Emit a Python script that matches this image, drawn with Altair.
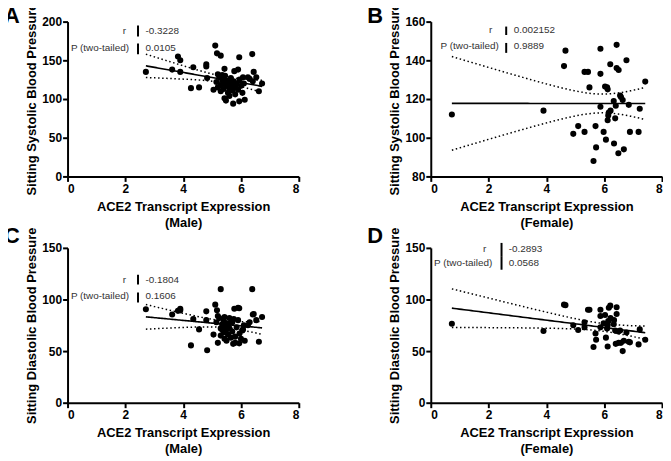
import numpy as np
import pandas as pd
import altair as alt

# ---------------- data ----------------
# Male subjects: ACE2 transcript expression, sitting systolic (A) and diastolic (C) BP
male_ace2 = [2.71, 3.62, 3.82, 3.90, 3.90, 4.35, 4.27, 4.55, 4.80, 4.80,
             4.83, 5.11, 5.17, 5.30, 5.43, 5.94, 6.39, 5.77, 5.90, 6.07,
             6.24, 6.41, 6.44, 6.53, 6.73, 6.62, 5.43, 5.48, 5.73, 5.94,
             6.13, 5.15, 5.20, 5.25, 5.30, 5.30, 5.35, 5.40, 5.40, 5.45,
             5.50, 5.50, 5.55, 5.60, 5.60, 5.65, 5.70, 5.70, 5.75, 5.80,
             5.80, 5.85, 5.90, 5.95, 6.00, 6.05, 6.10, 5.20, 5.05, 5.60,
             6.30, 5.35]
male_sys = [135, 138, 155, 150, 135, 141, 114, 115, 145, 142,
            127, 169, 159, 156, 139, 154, 158, 136, 138, 128,
            128, 123, 135, 128, 120, 110, 101, 98, 94, 97,
            99, 122, 115, 128, 118, 110, 125, 120, 113, 130,
            124, 117, 108, 121, 114, 127, 118, 111, 123, 115,
            106, 120, 112, 125, 117, 108, 120, 132, 112, 104,
            126, 131]
male_dia = [90.5, 85.5, 89, 91, 89.5, 81, 55.5, 71, 88.5, 80,
            50.8, 95, 89.5, 110, 83, 91.5, 110, 91, 80, 71,
            75, 85.5, 86, 80, 83, 59, 62, 70, 57, 57.5,
            60, 78, 58, 82, 65, 72, 76, 68, 80, 74,
            60, 77, 66, 72, 82, 63, 78, 69, 81, 64,
            58, 73, 92, 67, 62, 70, 75, 84, 66, 77,
            78, 71]

# Female subjects: ACE2 transcript expression, sitting systolic (B) and diastolic (D) BP
female_ace2 = [4.66, 4.61, 5.87, 6.43, 6.21, 6.77, 6.43, 6.50, 5.32, 5.44,
               5.87, 7.42, 5.49, 6.03, 6.10, 6.12, 6.33, 6.58, 6.64, 6.85,
               7.23, 5.87, 6.16, 6.14, 6.38, 6.12, 5.10, 5.70, 4.93, 5.32,
               5.98, 6.89, 7.19, 6.06, 6.34, 5.72, 6.68, 6.49, 5.63, 0.73,
               3.90, 6.40, 6.22, 6.55]
female_sys = [145, 137, 146, 148, 138, 140, 136, 135, 134, 134,
              133, 129, 126, 126.5, 126, 125, 119, 121, 119.5, 117,
              115, 116, 113, 111.5, 110, 109, 106, 106, 102, 103,
              103, 103, 103, 99, 97, 95, 94, 92, 88, 112,
              114, 116.5, 114, 121.8]
female_dia = [94.5, 95, 90, 92.5, 94, 68, 86, 58, 78, 90,
              84, 61, 90, 85, 72, 54.5, 76, 58, 50, 59,
              71, 73, 92, 79, 70, 75, 70.5, 67, 75, 73,
              77, 58.5, 56.5, 63, 80, 61, 60, 69, 54, 76.5,
              69.5, 57, 82, 70]

stat_labels = ["r", "P (two-tailed)"]
stats_A = ["-0.3228", "0.0105"]
stats_B = ["0.002152", "0.9889"]
stats_C = ["-0.1804", "0.1606"]
stats_D = ["-0.2893", "0.0568"]

panel_letters = ["A", "B", "C", "D"]
y_title_sys = "Sitting Systolic Blood Pressure"
y_title_dia = "Sitting Diastolic Blood Pressure"
x_title = "ACE2 Transcript Expression"
group_male = "(Male)"
group_female = "(Female)"
x_ticks = [0, 2, 4, 6, 8]
y_ticks_A = [0, 50, 100, 150, 200]
y_ticks_B = [80, 100, 120, 140, 160]
y_ticks_CD = [0, 50, 100, 150]

FONT = "Liberation Sans"
W, H = 233, 156


def fit_band(x, y, tcrit):
    x = np.asarray(x, float)
    y = np.asarray(y, float)
    n = len(x)
    xm, ym = x.mean(), y.mean()
    sxx = ((x - xm) ** 2).sum()
    sxy = ((x - xm) * (y - ym)).sum()
    b = sxy / sxx
    a = ym - b * xm
    s = np.sqrt(((y - (a + b * x)) ** 2).sum() / (n - 2))
    g = np.linspace(x.min(), x.max(), 80)
    f = a + b * g
    se = s * np.sqrt(1.0 / n + (g - xm) ** 2 / sxx)
    return pd.DataFrame({"x": g, "fit": f, "lo": f - tcrit * se, "hi": f + tcrit * se})


def panel(x, y, ydom, yticks, ytitle, group, letter, stats, tcrit, lay):
    pts = pd.DataFrame({"x": x, "y": y})
    band = fit_band(x, y, tcrit)
    xs = alt.Scale(domain=[0, 8], nice=False)
    ys = alt.Scale(domain=ydom, nice=False, zero=False)
    xax = alt.Axis(values=x_ticks, format="d", title=[x_title, group])
    yax = alt.Axis(values=yticks, title=ytitle)

    points = alt.Chart(pts).mark_circle(size=38, color="black", opacity=1).encode(
        x=alt.X("x:Q", scale=xs, axis=xax),
        y=alt.Y("y:Q", scale=ys, axis=yax),
    )
    layers = [points]
    line = alt.Chart(band).mark_line(color="black", strokeWidth=1.6).encode(
        x=alt.X("x:Q", scale=xs, axis=xax),
        y=alt.Y("fit:Q", scale=ys, axis=yax),
    )
    layers.append(line)
    for col in ["lo", "hi"]:
        layers.append(
            alt.Chart(band).mark_line(color="black", strokeWidth=1.5, strokeDash=[1.5, 2.6]).encode(
                x=alt.X("x:Q", scale=xs, axis=xax),
                y=alt.Y(f"{col}:Q", scale=ys, axis=yax),
            )
        )
    # statistics box
    for i in range(2):
        lab_df = pd.DataFrame({"t": [stat_labels[i]]})
        layers.append(
            alt.Chart(lab_df).mark_text(font=FONT, fontSize=10, color="#333333", align="right",
                                        baseline="middle").encode(
                x=alt.value(lay["lab_x"][i]), y=alt.value(lay["row_y"][i]), text="t:N")
        )
        val_df = pd.DataFrame({"t": [stats[i]]})
        layers.append(
            alt.Chart(val_df).mark_text(font=FONT, fontSize=10, color="#333333", align="left",
                                        baseline="middle").encode(
                x=alt.value(lay["val_x"]), y=alt.value(lay["row_y"][i]), text="t:N")
        )
        layers.append(
            alt.Chart(lab_df).mark_rule(color="black", strokeWidth=2).encode(
                x=alt.value(lay["bar_x"]), y=alt.value(lay["bar_y"][i][0]),
                y2=alt.value(lay["bar_y"][i][1]))
        )
    let_df = pd.DataFrame({"t": [letter]})
    layers.append(
        alt.Chart(let_df).mark_text(font=FONT, fontSize=22, fontWeight="bold", color="black",
                                    align="left", baseline="alphabetic").encode(
            x=alt.value(-64), y=alt.value(lay["let_y"]), text="t:N")
    )
    return alt.layer(*layers).properties(width=W, height=H)


lay_A = {"lab_x": [59, 62], "row_y": [9.5, 26.7], "val_x": 78.5, "bar_x": 71,
         "bar_y": [(4, 15), (22, 33)], "let_y": 1}
lay_B = {"lab_x": [62, 68.5], "row_y": [8.3, 25], "val_x": 83.5, "bar_x": 76,
         "bar_y": [(5, 13.5), (21.5, 31.5)], "let_y": 1}
lay_C = {"lab_x": [59, 62], "row_y": [32, 48.7], "val_x": 78.5, "bar_x": 71,
         "bar_y": [(27, 37), (45, 55)], "let_y": -5}
lay_D = {"lab_x": [56, 62], "row_y": [1.3, 15.3], "val_x": 78.5, "bar_x": 71.3,
         "bar_y": [(-5, 8.3), (8.3, 22)], "let_y": -5}

pA = panel(male_ace2, male_sys, [0, 200], y_ticks_A, y_title_sys, group_male, panel_letters[0], stats_A, 2.0003, lay_A)
pB = panel(female_ace2, female_sys, [80, 160], y_ticks_B, y_title_sys, group_female, panel_letters[1], stats_B, 2.0181, lay_B)
pC = panel(male_ace2, male_dia, [0, 150], y_ticks_CD, y_title_dia, group_male, panel_letters[2], stats_C, 2.0003, lay_C)
pD = panel(female_ace2, female_dia, [0, 150], y_ticks_CD, y_title_dia, group_female, panel_letters[3], stats_D, 2.0181, lay_D)

chart = alt.concat(
    pA, pB, pC, pD, columns=2, spacing={"row": 72, "column": 133}, bounds="flush"
).properties(
    padding={"left": -4, "top": -7, "right": 0, "bottom": 0}
).configure_view(
    stroke=None
).configure_axis(
    grid=False,
    domainColor="black", domainWidth=2,
    tickColor="black", tickWidth=2, tickSize=5,
    labelFont=FONT, labelFontSize=12, labelFontWeight="bold", labelColor="black",
    titleFont=FONT, titleFontSize=13, titleFontWeight="bold", titleColor="black",
    titleLineHeight=16,
).configure_axisX(
    labelPadding=2, titlePadding=6,
).configure_axisY(
    labelPadding=1, titlePadding=3,
)

chart.save("out.html", embed_options={"renderer": "svg", "actions": False})
